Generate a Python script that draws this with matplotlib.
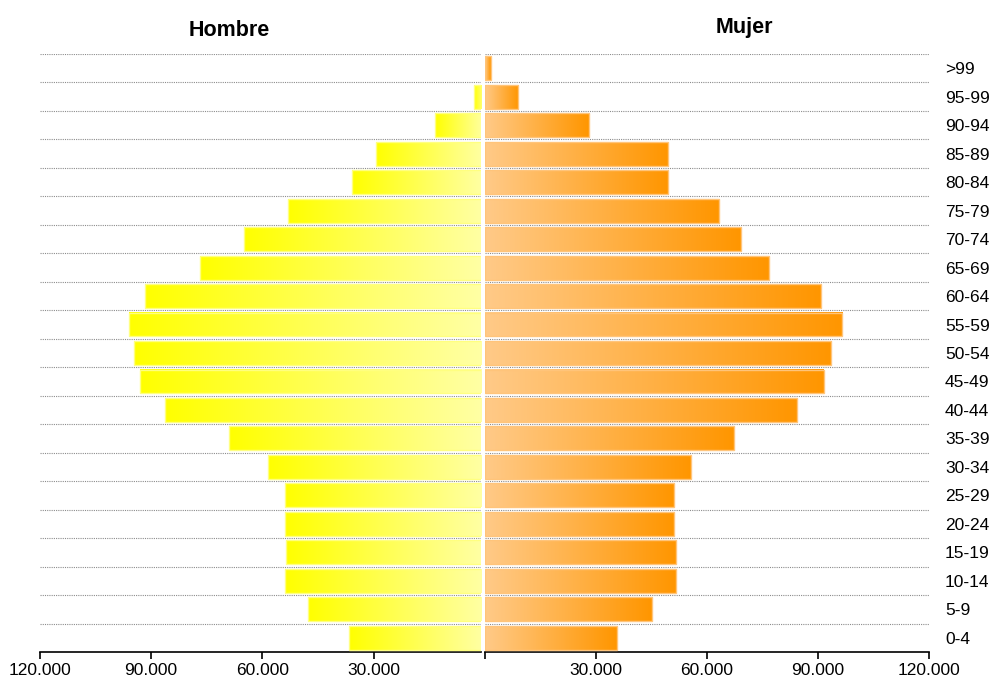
import numpy as np
import matplotlib.pyplot as plt
from matplotlib.colors import LinearSegmentedColormap

plt.rcParams['font.family'] = ['Liberation Sans', 'DejaVu Sans']

grupos = ['0-4', '5-9', '10-14', '15-19', '20-24', '25-29', '30-34', '35-39',
          '40-44', '45-49', '50-54', '55-59', '60-64', '65-69', '70-74',
          '75-79', '80-84', '85-89', '90-94', '95-99', '>99']

hombres = [36600, 47700, 53900, 53600, 53900, 53900, 58500, 69000,
           86300, 93100, 94700, 95900, 91600, 76800, 64900,
           53000, 35800, 29300, 13300, 3000, 200]

mujeres = [35600, 45100, 51600, 51600, 51000, 51000, 55600, 67200,
           84200, 91600, 93600, 96500, 90800, 76700, 69100,
           63200, 49400, 49400, 28000, 9000, 1500]

ticks_x = [0, 30000, 60000, 90000, 120000]
ticks_lab = ['', '30.000', '60.000', '90.000', '120.000']

# degradados: del tono pálido (centro) al saturado (extremo)
cmap_h = LinearSegmentedColormap.from_list('h', ['#ffffa6', '#ffff00'])
cmap_m = LinearSegmentedColormap.from_list('m', ['#ffca88', '#ff9600'])
grad = np.linspace(0, 1, 256).reshape(1, -1)

fig = plt.figure(figsize=(9.95, 6.84), dpi=100)
ax_h = fig.add_axes([40/995, 1-652/684, 441/995, 598/684])
ax_m = fig.add_axes([485/995, 1-652/684, 444/995, 598/684])

alto = 0.84
y = np.arange(len(grupos))

def barras(ax, valores, cmap, borde):
    for yi, v in zip(y, valores):
        ax.imshow(grad, cmap=cmap, aspect='auto', interpolation='bilinear',
                  extent=[0, v, yi - alto/2, yi + alto/2], zorder=2)
    ax.barh(y, valores, height=alto, color='none', edgecolor=borde,
            linewidth=1, zorder=3)

barras(ax_h, hombres, cmap_h, '#ffff80')
barras(ax_m, mujeres, cmap_m, '#ffc47a')

for ax in (ax_h, ax_m):
    ax.set_ylim(-0.5, len(grupos) - 0.5)
    for yl in np.arange(len(grupos)) + 0.5:
        ax.axhline(yl, color='#8c8c8c', linewidth=0.8,
                   linestyle=(0, (1, 1)), zorder=1)
    for s in ('top', 'left', 'right'):
        ax.spines[s].set_visible(False)
    ax.spines['bottom'].set_linewidth(1.2)
    ax.tick_params(axis='x', length=5, width=1.2, labelsize=12.5, pad=3)
    ax.set_facecolor('none')

ax_h.set_xlim(120000, 1000)
ax_h.set_xticks(ticks_x[1:])
ax_h.set_xticklabels(ticks_lab[1:])
ax_h.set_yticks([])

ax_m.set_xlim(0, 120000)
ax_m.set_xticks(ticks_x)
ax_m.set_xticklabels(ticks_lab)
ax_m.set_yticks(y)
ax_m.set_yticklabels(grupos)
ax_m.yaxis.tick_right()
ax_m.tick_params(axis='y', length=0, labelsize=12.5, pad=11.5)

fig.text(229.5/995, 1-30/684, 'Hombre', ha='center', va='center',
         fontsize=15.5, fontweight='bold')
fig.text(744/995, 1-28/684, 'Mujer', ha='center', va='center',
         fontsize=15.5, fontweight='bold')

fig.savefig('out.png', dpi=100)
